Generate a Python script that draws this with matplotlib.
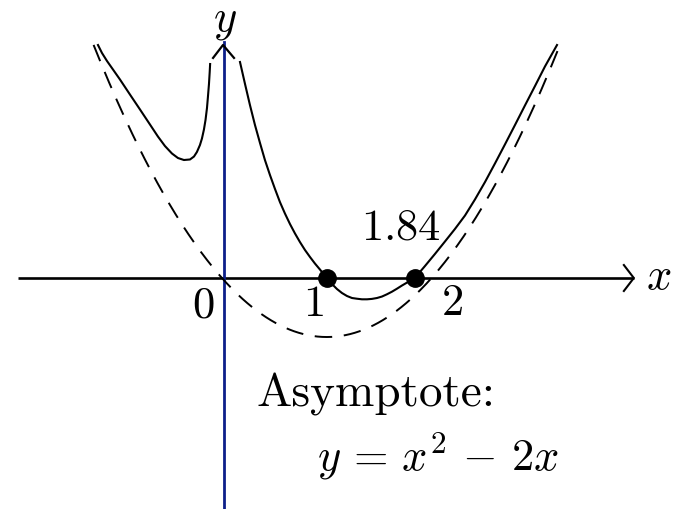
import numpy as np
import matplotlib
matplotlib.use("Agg")
import matplotlib.pyplot as plt

plt.rcParams['mathtext.fontset'] = 'cm'

#__ Curve y = f(x), left branch (x<0) _______________
x_left = [-1.183, -1.145, -1.097, -1.040, -0.973, -0.878, -0.782, -0.687,
          -0.611, -0.544, -0.477, -0.420, -0.363, -0.305, -0.267, -0.239,
          -0.210, -0.191, -0.172, -0.157, -0.143, -0.134, -0.124, -0.117, -0.113]
y_left = [3.949, 3.814, 3.678, 3.534, 3.364, 3.110, 2.856, 2.602,
          2.398, 2.237, 2.110, 2.034, 2.000, 2.009, 2.059, 2.136,
          2.254, 2.364, 2.517, 2.678, 2.881, 3.068, 3.288, 3.492, 3.627]

#__ right branch (x>0), through the two roots ______
x_right = [0.172, 0.220, 0.267, 0.315, 0.363, 0.410, 0.458, 0.506, 0.553,
           0.601, 0.649, 0.697, 0.744, 0.792, 0.840, 0.887, 0.935, 1.000,
           1.050, 1.097, 1.145, 1.193, 1.241, 1.288, 1.336, 1.384, 1.431,
           1.479, 1.527, 1.574, 1.622, 1.670, 1.718, 1.775, 1.840,
           1.937, 2.032, 2.128, 2.223, 2.319, 2.414, 2.510, 2.605, 2.700,
           2.796, 2.891, 2.987, 3.082, 3.197]
y_right = [3.661, 3.288, 2.932, 2.593, 2.288, 2.000, 1.746, 1.509, 1.288,
           1.093, 0.915, 0.754, 0.610, 0.475, 0.356, 0.246, 0.144, 0.000,
           -0.102, -0.186, -0.254, -0.305, -0.339, -0.351, -0.361, -0.361, -0.354,
           -0.339, -0.314, -0.276, -0.232, -0.181, -0.127, -0.068, 0.000,
           0.203, 0.407, 0.619, 0.831, 1.059, 1.331, 1.627, 1.941, 2.263,
           2.593, 2.924, 3.254, 3.585, 3.949]

# roots marked on the x-axis
roots = [1.0, 1.84]
root_label = "1.84"

# asymptote y = x^2 - 2x
asym_a, asym_b = 1.0, -2.0
asym_x = np.linspace(-1.225, 3.21, 300)
asym_y = asym_a*asym_x**2 + asym_b*asym_x

#__ Figure ______________________________________
fig = plt.figure(figsize=(6.77, 5.09), dpi=100)
ax = fig.add_axes([0, 0, 1, 1])
ax.set_xlim(-2.118, 4.342)
ax.set_ylim(-3.915, 4.712)
ax.axis('off')

# axes with open arrowheads
ax.plot([-1.947, 3.93], [0, 0], color='black', lw=1.9, solid_capstyle='butt')
ax.plot([3.835, 3.93, 3.835], [0.22, 0, -0.22], color='black', lw=1.5)
ax.plot([0.02, 0.02], [-3.915, 4.0], color='#0d1f8a', lw=2.0)
ax.plot([-0.085, 0.01, 0.115], [3.73, 3.95, 3.73], color='black', lw=1.6)

# asymptote and curve
ax.plot(asym_x, asym_y, color='black', lw=1.4, linestyle=(0, (9, 6)))
ax.plot(x_left, y_left, color='black', lw=1.5)
ax.plot(x_right, y_right, color='black', lw=1.5)
ax.plot(roots, [0, 0], 'o', color='black', ms=12.5)

# labels
fs = 32
ax.text(0.03, 4.36, r"$y$", fontsize=fs, ha='center', va='center')
ax.text(4.17, 0.02, r"$x$", fontsize=fs, ha='center', va='center')
ax.text(-0.181, -0.458, r"$0$", fontsize=fs, ha='center', va='center')
ax.text(0.868, -0.44, r"$1$", fontsize=fs, ha='center', va='center')
ax.text(2.195, -0.42, r"$2$", fontsize=fs, ha='center', va='center')
ax.text(1.708, 0.864, r"$%s$" % root_label, fontsize=fs, ha='center', va='center')
ax.text(0.334, -2.186, "Asymptote:", fontsize=34, family='cmr10',
        ha='left', va='baseline')
ax.text(0.906, -3.254, r"$y\,=\,x^2\,-\,2x$", fontsize=fs, ha='left', va='baseline')

fig.savefig("out.png", dpi=100)
